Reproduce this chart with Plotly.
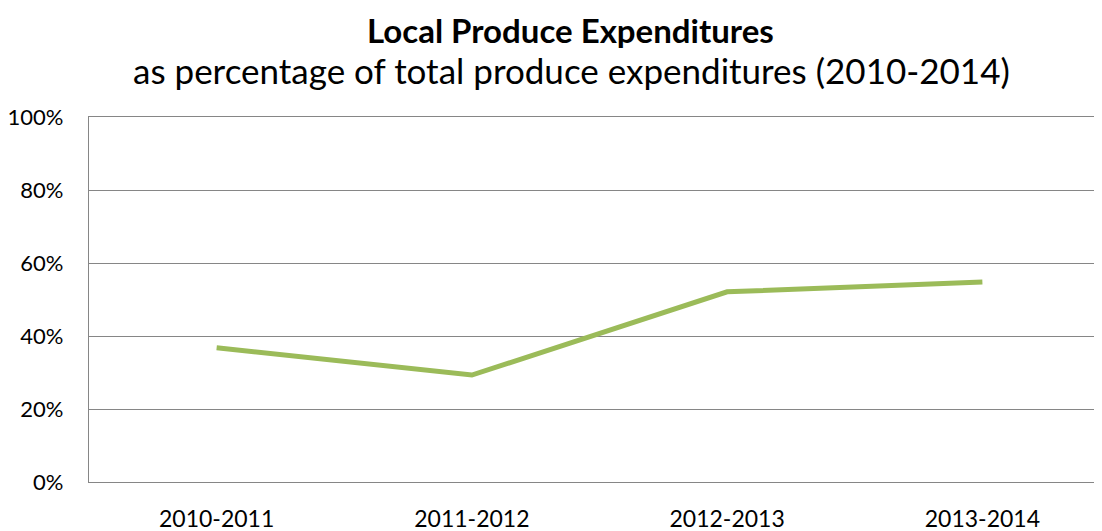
import plotly.graph_objects as go

categories = ["2010-2011", "2011-2012", "2012-2013", "2013-2014"]
values = [36.8, 29.3, 52.1, 54.8]
y_ticks = [0, 20, 40, 60, 80, 100]
y_tick_labels = ["0%", "20%", "40%", "60%", "80%", "100%"]

FONT = "Lato"
GRID = "#868686"

W, H = 1102, 531
ML, MR, MT, MB = 81, 0, 109, 57

fig = go.Figure()
fig.add_trace(go.Scatter(
    x=list(range(len(categories))), y=values, mode="lines",
    line=dict(color="#9BBB59", width=5),
    showlegend=False, hoverinfo="skip"
))

fig.update_layout(
    width=W, height=H,
    margin=dict(l=ML, r=MR, t=MT, b=MB, autoexpand=False),
    plot_bgcolor="white", paper_bgcolor="white",
    font=dict(family=FONT, color="#000000", size=20),
    xaxis=dict(
        range=[-0.5, 3.5], tickmode="array",
        tickvals=list(range(len(categories))), ticktext=categories,
        showgrid=False, zeroline=False,
        showline=True, mirror=True, linecolor=GRID, linewidth=1.3,
        ticks="", ticklabelstandoff=16, automargin=False,
        tickfont=dict(family=FONT, size=23, color="#000000"),
    ),
    yaxis=dict(
        range=[0, 100], tickmode="array", tickvals=y_ticks, ticktext=y_tick_labels,
        showgrid=True, gridcolor=GRID, gridwidth=1.3,
        zeroline=False, showline=True, linecolor=GRID, linewidth=1.3,
        ticks="", ticklabelstandoff=20, automargin=False,
        tickfont=dict(family=FONT, size=22, color="#000000"),
    ),
    annotations=[
        dict(text="<b>Local Produce Expenditures</b>", x=562, y=0,
             xref="paper", yref="paper", showarrow=False, yanchor="top",
             font=dict(family=FONT, size=33, color="#000000")),
        dict(text="as percentage of total produce expenditures (2010-2014)", x=563, y=62,
             xref="paper", yref="paper", showarrow=False, yanchor="middle",
             font=dict(family=FONT, size=35, color="#000000")),
    ],
)

# convert annotation pixel positions to paper coords
plot_w = W - ML - MR
plot_h = H - MT - MB
for ann in fig.layout.annotations:
    px, py = ann.x, ann.y
    ann.x = (px - ML) / plot_w
    ann.y = (H - MB - py) / plot_h
    ann.xanchor = "center"

fig.write_html("out.html")
